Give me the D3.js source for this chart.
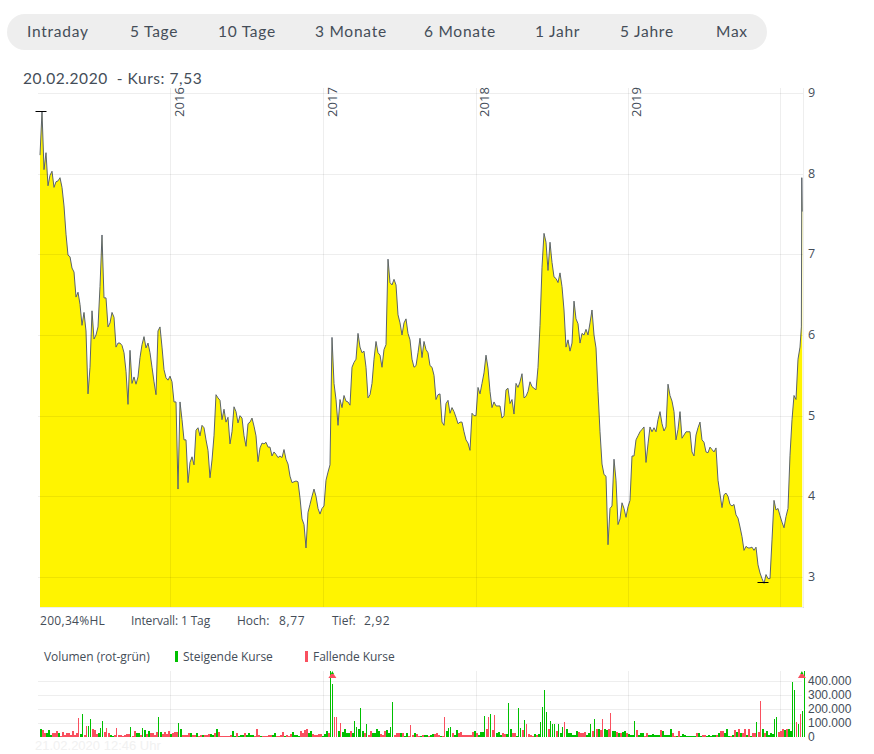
<!DOCTYPE html>
<html><head><meta charset="utf-8">
<script src="https://cdn.jsdelivr.net/npm/d3@7"></script>
<style>html,body{margin:0;padding:0;background:#fff}svg{display:block}</style>
</head><body><svg id="c" width="874" height="754"></svg>
<script>
const tabLabels=["Intraday","5 Tage","10 Tage","3 Monate","6 Monate","1 Jahr","5 Jahre","Max"];
const priceTicks=[3,4,5,6,7,8,9];
const volumeTicks=[0,100,200,300,400];
const yearLabels=[2016,2017,2018,2019];
const yearGrid=[2016,2017,2018,2019,2020];
const prices=[
8.23,8.77,8.05,8.26,7.85,7.98,8.03,7.83,7.90,7.91,
7.95,7.83,7.60,7.25,6.99,6.97,6.83,6.78,6.47,6.53,
6.38,6.12,6.28,6.05,5.27,5.60,6.30,5.95,6.00,6.10,
6.60,7.24,6.46,6.46,6.10,6.15,6.28,6.22,5.85,5.90,
5.90,5.87,5.78,5.55,5.14,5.81,5.40,5.48,5.39,5.48,
5.72,5.88,5.98,5.84,5.90,5.78,5.60,5.42,5.26,6.05,
6.10,5.85,5.57,5.47,5.44,5.49,5.42,5.17,5.17,4.09,
5.17,4.95,4.70,4.70,4.17,4.42,4.49,4.39,4.82,4.85,
4.75,4.88,4.85,4.70,4.57,4.23,4.45,4.75,5.26,5.22,
5.19,4.95,5.08,4.92,4.98,4.65,4.80,5.11,5.05,4.91,
5.00,4.97,4.75,4.62,4.90,4.92,4.97,4.87,4.75,4.43,
4.60,4.66,4.65,4.67,4.61,4.61,4.50,4.55,4.52,4.48,
4.50,4.48,4.58,4.46,4.40,4.25,4.17,4.18,4.19,4.18,
3.98,3.72,3.65,3.36,3.80,3.90,4.00,4.09,4.00,3.85,
3.78,3.85,3.88,4.20,4.30,4.39,5.97,5.40,5.20,4.88,
5.20,5.10,5.25,5.18,5.17,5.13,5.60,5.66,5.70,6.02,
5.85,5.78,5.80,5.60,5.22,5.26,5.40,5.70,5.92,5.78,
5.75,5.60,5.82,5.88,6.94,6.65,6.62,6.69,6.62,6.25,
6.15,6.00,6.15,6.20,6.02,5.94,5.70,5.60,5.62,5.78,
5.96,5.72,5.92,5.82,5.78,5.62,5.60,5.50,5.20,5.26,
5.27,4.92,4.88,5.15,5.19,5.03,5.10,5.05,4.98,4.90,
4.92,4.92,4.80,4.70,4.66,4.57,5.03,5.00,5.00,5.35,
5.27,5.40,5.53,5.75,5.59,5.30,5.10,5.17,5.12,5.12,
5.12,4.97,5.00,5.32,5.34,5.15,5.20,5.02,5.40,5.35,
5.42,5.52,5.22,5.24,5.30,5.42,5.36,5.34,5.32,5.60,
6.12,6.84,7.26,7.15,6.80,7.15,6.90,6.72,6.70,6.65,
6.77,6.60,6.31,5.85,5.94,5.80,5.90,6.42,6.20,6.14,
5.90,6.02,6.00,6.07,6.00,6.15,6.31,6.00,5.84,5.30,
4.80,4.40,4.27,4.25,3.40,3.85,3.88,4.46,4.20,3.65,
3.72,3.92,3.85,3.74,3.87,3.95,4.50,4.50,4.70,4.75,
4.80,4.83,4.86,4.42,4.65,4.86,4.80,4.85,4.80,4.95,
5.05,4.90,4.81,4.86,5.39,5.25,5.18,5.05,4.70,4.83,
5.05,4.72,4.76,4.80,4.80,4.80,4.55,4.50,4.76,4.85,
4.92,4.70,4.67,4.55,4.54,4.61,4.58,4.55,4.60,4.20,
4.03,3.86,4.02,4.04,4.00,3.90,3.88,3.90,3.77,3.73,
3.62,3.50,3.33,3.38,3.36,3.36,3.37,3.33,3.37,3.15,
3.05,2.98,2.92,3.03,2.98,2.98,3.46,3.95,3.83,3.85,
3.76,3.68,3.61,3.75,3.85,4.51,4.95,5.25,5.20,5.70,
5.85];
const lastDays=["2020-02-18","2020-02-19","2020-02-20"];
const lastPrices=[6.10,7.95,7.53];
// thousands of shares; positive = rising day (green), negative = falling day (red)
const volumes=[
60,-50,-30,25,50,12,-25,-25,-42,30,-10,-35,-12,-25,-25,-15,-40,-15,-30,-135,20,165,-15,-80,75,125,-60,-50,-20,25,65,115,-35,-65,-30,15,8,-15,-65,-12,-12,-8,-15,-20,-20,70,-10,-40,25,30,-15,65,50,-20,40,-25,-25,-15,-35,140,35,-20,-35,-20,-40,20,-25,-35,-35,100,60,-15,-15,-15,-25,25,-12,-12,25,-10,-12,15,-12,-12,-20,20,12,-25,55,-35,-10,-10,-10,-8,-10,-12,40,10,
-25,10,15,15,-30,15,30,15,12,-10,-55,-15,10,-8,-8,-10,-15,-15,15,25,-10,-10,-12,-35,10,-12,-8,-20,35,15,12,10,-40,-25,-50,-55,25,45,-20,-15,-15,-18,-18,5,18,45,-25,480,375,-140,-140,45,-100,35,60,25,25,-45,30,115,70,60,210,40,-25,95,-15,-45,25,30,55,40,-20,-15,-40,50,25,70,250,-15,-30,-25,25,-30,10,30,-10,-85,-15,25,-20,-10,10,-12,15,15,-10,12,20,-20,-25,
-12,8,-5,-140,40,65,70,-30,15,50,-25,-35,-15,-15,-15,-15,-15,-35,40,-25,15,35,35,150,-60,-140,165,-50,-155,30,35,15,-30,-20,20,240,60,-25,-25,5,205,65,-50,120,-90,-20,-15,-10,20,-15,20,110,215,335,175,-60,115,95,90,-45,90,25,70,-105,60,25,25,15,15,40,-35,-30,-25,-35,15,25,95,-40,125,-55,55,-50,-130,55,50,-60,-170,45,45,-35,30,-25,35,40,-25,20,12,15,115,-50,
15,30,30,-10,-30,15,15,20,12,12,12,-50,45,15,12,12,60,-25,-10,10,-40,10,20,15,10,10,10,10,10,-30,30,10,-15,-15,10,15,5,15,12,-12,30,-40,-40,25,55,10,-10,15,-50,35,-55,25,-30,-55,15,-55,10,-30,-30,110,-35,-255,60,-30,40,15,30,20,125,140,-35,-40,-55,50,-60,60,45,395,335,-105,90,-165,185,480];
const clippedVolumeDays=["2017-01-19","2020-02-18"];

const startDay=new Date(2015,1,20), endDay=new Date(2020,1,20);
const sampleMs=(endDay-startDay)/381;
const sampleDate=i=>new Date(+startDay+i*sampleMs);
const series=prices.map((v,i)=>({d:sampleDate(i),v}))
  .concat(lastPrices.map((v,i)=>({d:new Date(lastDays[i]+"T12:00:00"),v})));
const volData=volumes.map((v,i)=>({d:sampleDate(i),v}));

const svg=d3.select("#c");
const sans="'Open Sans',sans-serif", ui="Lato,sans-serif", ink="#444d58";
const x=d3.scaleTime().domain([startDay,endDay]).range([40,802]);
const y=d3.scaleLinear().domain([2.628,9]).range([607,93]);
const yV=d3.scaleLinear().domain([0,471]).range([737,671]).clamp(true);
const fmtV=v=>v===0?"0":v+".000";
const yearDate=yr=>new Date(yr,0,1);

// tabs
svg.append("rect").attr("x",7).attr("y",14).attr("width",760).attr("height",36).attr("rx",18).attr("fill","#eeeeee");
const tabX=[27,130,218,315,424,535,620,716];
svg.selectAll("text.tab").data(tabLabels).join("text").attr("class","tab")
  .attr("x",(d,i)=>tabX[i]).attr("y",37).attr("font-family",ui).attr("font-size",15.5).attr("letter-spacing",0.75)
  .attr("fill",ink).text(d=>d);

svg.append("text").attr("x",23).attr("y",84).attr("font-family",ui).attr("font-size",15.5).attr("letter-spacing",0.55)
  .attr("fill",ink).attr("xml:space","preserve").style("white-space","pre").text("20.02.2020  - Kurs: 7,53");

// area + line
svg.append("path").datum(series).attr("fill","#fff400")
  .attr("d",d3.area().x(d=>x(d.d)).y0(607).y1(d=>y(d.v)));
svg.append("path").datum(series).attr("fill","none").attr("stroke","#5b636b").attr("stroke-width",1)
  .attr("d",d3.line().x(d=>x(d.d)).y(d=>y(d.v)));

// grid above the area
const grid=svg.append("g").attr("stroke","#000").attr("stroke-opacity",0.065).attr("stroke-width",1);
grid.selectAll("line.h").data(priceTicks).join("line").attr("class","h")
  .attr("x1",38).attr("x2",803).attr("y1",d=>Math.round(y(d))+.5).attr("y2",d=>Math.round(y(d))+.5);
grid.selectAll("line.v").data(yearGrid).join("line").attr("class","v")
  .attr("x1",d=>Math.round(x(yearDate(d)))-.5).attr("x2",d=>Math.round(x(yearDate(d)))-.5).attr("y1",88).attr("y2",607);
grid.append("line").attr("x1",803.5).attr("x2",803.5).attr("y1",88).attr("y2",608);
grid.append("line").attr("x1",40).attr("x2",804).attr("y1",607.5).attr("y2",607.5);

// price axis
const ax=svg.append("g").attr("transform","translate(803,-0.5)")
  .call(d3.axisRight(y).tickValues(priceTicks).tickSize(0).tickPadding(5).tickFormat(d3.format("d")));
ax.select(".domain").remove();
ax.selectAll("text").attr("font-family",sans).attr("font-size",12.5).attr("fill",ink);

// year labels
svg.selectAll("text.yr").data(yearLabels).join("text").attr("class","yr")
  .attr("transform",d=>`translate(${x(yearDate(d))+12.5},117) rotate(-90)`)
  .attr("font-family",sans).attr("font-size",13).attr("letter-spacing",0.1).attr("fill",ink).text(d=>d);

// high / low markers
const hi=d3.greatest(series,d=>d.v), lo=d3.least(series,d=>d.v);
svg.selectAll("line.hl").data([hi,lo]).join("line").attr("class","hl")
  .attr("x1",d=>x(d.d)-6.5).attr("x2",d=>x(d.d)+4.5)
  .attr("y1",d=>Math.round(y(d.v))-.5).attr("y2",d=>Math.round(y(d.v))-.5)
  .attr("stroke","#000").attr("stroke-width",1);

// status row
const statusRow=[["200,34%HL",40,0.3],["Intervall: 1 Tag",131,-0.15],["Hoch:",237,0],["8,77",279,0.6],["Tief:",332,0],["2,92",364,0.6]];
svg.selectAll("text.st").data(statusRow).join("text").attr("class","st")
  .attr("x",d=>d[1]).attr("y",625).attr("letter-spacing",d=>d[2]).attr("font-family",sans).attr("font-size",12).attr("fill",ink).text(d=>d[0]);

// legend
const legendRow=[["Volumen (rot-grün)",44],["Steigende Kurse",183],["Fallende Kurse",313]];
svg.selectAll("text.lg").data(legendRow).join("text").attr("class","lg")
  .attr("x",d=>d[1]).attr("y",661).attr("letter-spacing",-0.05).attr("font-family",sans).attr("font-size",12).attr("fill",ink).text(d=>d[0]);
svg.append("rect").attr("x",175).attr("y",651).attr("width",3).attr("height",11).attr("fill","#00c000");
svg.append("rect").attr("x",305).attr("y",651).attr("width",3).attr("height",11).attr("fill","#f9505f");

// volume grid
const vg=svg.append("g").attr("stroke","#000").attr("stroke-opacity",0.065);
vg.selectAll("line.h").data(volumeTicks.slice(1)).join("line").attr("class","h")
  .attr("x1",38).attr("x2",802).attr("y1",d=>Math.round(yV(d))+.5).attr("y2",d=>Math.round(yV(d))+.5);
vg.selectAll("line.v").data(yearGrid).join("line").attr("class","v")
  .attr("x1",d=>Math.round(x(yearDate(d)))-.5).attr("x2",d=>Math.round(x(yearDate(d)))-.5).attr("y1",671).attr("y2",737);

// volume bars
svg.selectAll("rect.vb").data(volData).join("rect").attr("class","vb")
  .attr("x",d=>Math.round(x(d.d))).attr("width",d=>Math.abs(d.v)>60?1:2)
  .attr("y",d=>yV(Math.abs(d.v))).attr("height",d=>737-yV(Math.abs(d.v)))
  .attr("shape-rendering","crispEdges")
  .attr("fill",d=>d.v>0?"#00c000":"#f9505f");

// clipped-volume arrows
const arrows=clippedVolumeDays.map(s=>new Date(s+"T12:00:00"));
svg.selectAll("path.up").data(arrows).join("path").attr("class","up")
  .attr("transform",d=>`translate(${x(d)+.5},671)`).attr("d","M0,1L-4,7L4,7Z").attr("fill","#f9505f");
svg.selectAll("path.upg").data(arrows).join("path").attr("class","upg")
  .attr("transform",d=>`translate(${x(d)+.5},671)`).attr("d","M0,0L-1.5,3L1.5,3Z").attr("fill","#00c000");

// volume axis
const av=svg.append("g").attr("transform","translate(803,0)")
  .call(d3.axisRight(yV).tickValues(volumeTicks).tickSize(0).tickPadding(5).tickFormat(fmtV));
av.select(".domain").remove();
av.selectAll("text").attr("font-family","'Liberation Sans',Arial,sans-serif").attr("font-size",12).attr("fill",ink);

// timestamp
svg.append("text").attr("x",35).attr("y",750).attr("font-family","'Liberation Sans',Arial,sans-serif")
  .attr("font-size",13).attr("fill","#f1f1f1").text("21.02.2020 12:46 Uhr");
</script></body></html>
